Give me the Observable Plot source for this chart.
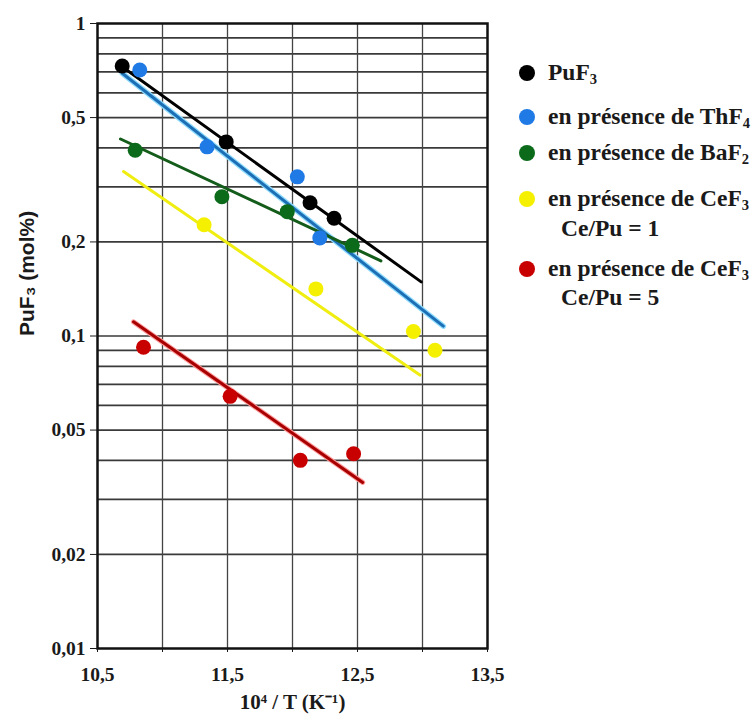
<!DOCTYPE html>
<html>
<head>
<meta charset="utf-8">
<script src="https://cdn.jsdelivr.net/npm/d3@7"></script>
<script src="https://cdn.jsdelivr.net/npm/@observablehq/plot@0.6"></script>
<style>
  body { margin: 0; background: #fff; }
  #wrap { position: relative; width: 754px; height: 718px; }
  .leg { position: absolute; left: 0; top: 0; font-family: "Liberation Serif", "Times New Roman", serif; font-weight: bold; font-size: 23.5px; color: #1a1a1a; }
  .item { position: absolute; left: 519px; display: flex; align-items: center; white-space: nowrap; line-height: 1; }
  .sw { width: 16px; height: 16px; border-radius: 50%; margin-right: 13px; flex: none; }
  .cont { position: absolute; left: 561px; white-space: nowrap; line-height: 1; }
  sub { font-size: 0.62em; vertical-align: -0.25em; line-height: 0; }
</style>
</head>
<body>
<div id="wrap"></div>
<script>
// ---- data ----
const seriesNames = ["PuF3", "ThF4", "BaF2", "CeF3 Ce/Pu = 1", "CeF3 Ce/Pu = 5"];
const seriesColors = ["#000000", "#1f7ae6", "#0b6b1a", "#f4f000", "#c80000"];
const lineColors = ["#000000", "#1c6fb5", "#145c1a", "#f0ee10", "#a80000"];

const pu_x = [10.69, 11.49, 12.135, 12.32];
const pu_y = [0.731, 0.418, 0.267, 0.238];
const th_x = [10.825, 11.343, 12.037, 12.21];
const th_y = [0.71, 0.403, 0.323, 0.206];
const ba_x = [10.79, 11.457, 11.96, 12.46];
const ba_y = [0.393, 0.279, 0.25, 0.195];
const ce1_x = [11.32, 12.18, 12.93, 13.096];
const ce1_y = [0.227, 0.1415, 0.1034, 0.09];
const ce5_x = [10.854, 11.52, 12.06, 12.47];
const ce5_y = [0.092, 0.0641, 0.04, 0.042];

// fitted trend lines (end points)
const puFit_x = [10.655, 12.99];   const puFit_y = [0.745, 0.149];
const thFit_x = [10.69, 13.16];    const thFit_y = [0.693, 0.1075];
const baFit_x = [10.677, 12.68];   const baFit_y = [0.427, 0.174];
const ce1Fit_x = [10.70, 12.98];   const ce1Fit_y = [0.336, 0.075];
const ce5Fit_x = [10.777, 12.54];  const ce5Fit_y = [0.111, 0.034];

const xTicksAll = [10.5, 11, 11.5, 12, 12.5, 13, 13.5];
const xTickLabels = [10.5, 11.5, 12.5, 13.5];
const xGrid = [11, 11.5, 12, 12.5, 13];
const yTickLabels = [0.01, 0.02, 0.05, 0.1, 0.2, 0.5, 1];
const yGrid = [0.02,0.03,0.04,0.05,0.06,0.07,0.08,0.09,0.1,0.2,0.3,0.4,0.5,0.6,0.7,0.8,0.9];

const xLabel = "10⁴ / T (K⁻¹)";
const yLabel = "PuF₃ (mol%)";

// ---- tables ----
const pts = [[pu_x, pu_y], [th_x, th_y], [ba_x, ba_y], [ce1_x, ce1_y], [ce5_x, ce5_y]];
const fits = [[puFit_x, puFit_y], [thFit_x, thFit_y], [baFit_x, baFit_y], [ce1Fit_x, ce1Fit_y], [ce5Fit_x, ce5Fit_y]];
const points = pts.flatMap(([xs, ys], i) => xs.map((x, j) => ({s: i, x, y: ys[j]})));
const fitRows = fits.flatMap(([xs, ys], i) => xs.map((x, j) => ({s: i, x, y: ys[j]})));

const comma = d => String(d).replace(".", ",");

const chart = Plot.plot({
  width: 754,
  height: 718,
  marginLeft: 97,
  marginRight: 267,
  marginTop: 23,
  marginBottom: 70,
  style: {fontFamily: "'Liberation Serif', 'Times New Roman', serif", fontWeight: "bold", fontSize: "19.5px", color: "#1a1a1a", background: "#fff"},
  x: {domain: [10.5, 13.5]},
  y: {type: "log", domain: [0.01, 1]},
  marks: [
    Plot.gridY(yGrid, {stroke: "#3a3a3a", strokeOpacity: 1, strokeWidth: 1.7}),
    Plot.gridX(xGrid, {stroke: "#444", strokeOpacity: 1, strokeWidth: 1.3}),
    Plot.frame({stroke: "#111", strokeWidth: 2.5}),
    Plot.axisY({ticks: yTickLabels, tickFormat: comma, tickSize: 7, tickPadding: 5, tickWidth: 2, label: null}),
    Plot.axisX({ticks: xTicksAll, tickSize: 4, tickPadding: 15, tickWidth: 2,
      tickFormat: d => xTickLabels.includes(d) ? comma(d) : "", label: null}),
    // halos under blue and red lines
    Plot.line(fitRows.filter(d => d.s === 1), {x: "x", y: "y", stroke: "#8fdcff", strokeWidth: 5.5}),
    Plot.line(fitRows.filter(d => d.s === 4), {x: "x", y: "y", stroke: "#ff9a9a", strokeWidth: 5}),
    Plot.line(fitRows, {x: "x", y: "y", z: "s", stroke: d => lineColors[d.s], strokeWidth: 3}),
    Plot.dot(points, {x: "x", y: "y", fill: d => seriesColors[d.s], r: 7.5}),
    Plot.text([yLabel], {frameAnchor: "left", rotate: -90, dx: -70, fontFamily: "'Liberation Sans', Arial, sans-serif", fontWeight: "bold", fontSize: 21, fill: "#1a1a1a"}),
    Plot.text([xLabel], {frameAnchor: "bottom", dy: 60, fontSize: 21, fill: "#1a1a1a"})
  ]
});

const wrap = document.getElementById("wrap");
wrap.appendChild(chart);

// ---- legend ----
const legendItems = [
  {c: 0, html: "PuF<sub>3</sub>", top: 73},
  {c: 1, html: "en présence de ThF<sub>4</sub>", top: 117},
  {c: 2, html: "en présence de BaF<sub>2</sub>", top: 153},
  {c: 3, html: "en présence de CeF<sub>3</sub>", top: 199, cont: "Ce/Pu = 1", ctop: 229},
  {c: 4, html: "en présence de CeF<sub>3</sub>", top: 269, cont: "Ce/Pu = 5", ctop: 298}
];
const leg = document.createElement("div");
leg.className = "leg";
for (const it of legendItems) {
  const d = document.createElement("div");
  d.className = "item";
  d.style.top = (it.top - 12) + "px";
  d.innerHTML = `<span class="sw" style="background:${seriesColors[it.c]}"></span><span>${it.html}</span>`;
  leg.appendChild(d);
  if (it.cont) {
    const c = document.createElement("div");
    c.className = "cont";
    c.style.top = (it.ctop - 12) + "px";
    c.textContent = it.cont;
    leg.appendChild(c);
  }
}
wrap.appendChild(leg);
</script>
</body>
</html>
